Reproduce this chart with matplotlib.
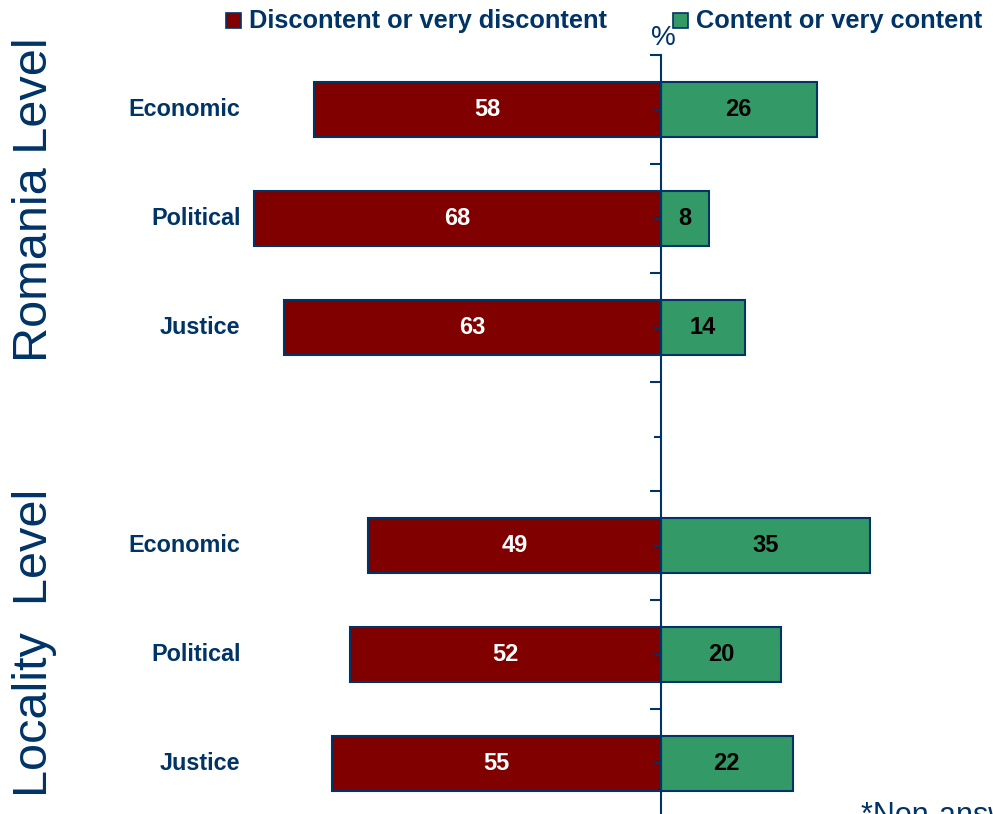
import matplotlib.pyplot as plt
import matplotlib.patches as patches
import numpy as np

plt.rcParams['font.family'] = ['Liberation Sans', 'DejaVu Sans']

# rows top to bottom; None marks the spacer between the two blocks
categories = ['Economic', 'Political', 'Justice', '', 'Economic', 'Political', 'Justice']
discontent = [58, 68, 63, None, 49, 52, 55]
content = [26, 8, 14, None, 35, 20, 22]
legend_labels = ['Discontent or very discontent', 'Content or very content']
group_labels = ['Romania Level', 'Locality  Level']

NAVY = '#003366'
RED = '#800000'
GREEN = '#339966'

W, H = 993, 814
fig = plt.figure(figsize=(W / 100, H / 100), dpi=100)

# axes: x zero sits near pixel 661, categories 109 px apart from y=55 down
ax = fig.add_axes([0, (H - 818) / H, 1, (818 - 55) / H])
ax.set_xlim(-110.5, 55.5)
ax.set_ylim(len(categories), 0)

for i, (cat, d, c) in enumerate(zip(categories, discontent, content)):
    y = i + 0.5
    if d is None:
        continue
    ax.barh(y, -d, height=0.5, color=RED, edgecolor=NAVY, linewidth=1.5, zorder=1)
    ax.barh(y, c, height=0.5, color=GREEN, edgecolor=NAVY, linewidth=1.5, zorder=1)
    ax.text(-d / 2, y, str(d), ha='center', va='center', color='white',
            fontsize=17, fontweight='bold')
    ax.text(c / 2, y, str(c), ha='center', va='center', color='black',
            fontsize=17, fontweight='bold')
    ax.text(-70.3, y, cat, ha='right', va='center', color=NAVY,
            fontsize=16.8, fontweight='bold')

# central axis line with ticks pointing left
for s in ['top', 'right', 'bottom']:
    ax.spines[s].set_visible(False)
ax.spines['left'].set_position(('data', 0))
ax.spines['left'].set_color(NAVY)
ax.spines['left'].set_linewidth(1.5)
ax.spines['left'].set_zorder(3)
ax.set_xticks([])
ax.set_yticks(np.arange(0, len(categories) + 1))
ax.set_yticks(np.arange(0.5, len(categories)), minor=True)
ax.tick_params(axis='y', which='major', length=8, width=1.5, color=NAVY,
               direction='out', labelleft=False)
ax.tick_params(axis='y', which='minor', length=5, width=1.5, color=NAVY,
               direction='out', labelleft=False)
ax.set_facecolor('none')

# group titles on the left
fig.text(35 / W, 1 - 200 / H, group_labels[0], rotation=90, ha='center',
         va='center', color=NAVY, fontsize=35)
fig.text(35 / W, 1 - 643 / H, group_labels[1], rotation=90, ha='center',
         va='center', color=NAVY, fontsize=35)

# legend drawn by hand across the top
for x0, col, lab, tx in [(226, RED, legend_labels[0], 249),
                         (673, GREEN, legend_labels[1], 696)]:
    fig.patches.append(patches.Rectangle(
        (x0 / W, 1 - 28 / H), 15 / W, 15 / H, transform=fig.transFigure,
        facecolor=col, edgecolor=NAVY, linewidth=1.2))
    fig.text(tx / W, 1 - 21 / H, lab, ha='left', va='center', color=NAVY,
             fontsize=18.3, fontweight='bold')

fig.text(663 / W, 1 - 38 / H, '%', ha='center', va='center', color=NAVY,
         fontsize=20)

# footnote runs off the lower right corner
fig.text(861 / W, 1 - 801 / H, '*Non-answers not shown', ha='left', va='top',
         color=NAVY, fontsize=22)

fig.savefig('out.png', dpi=100)
